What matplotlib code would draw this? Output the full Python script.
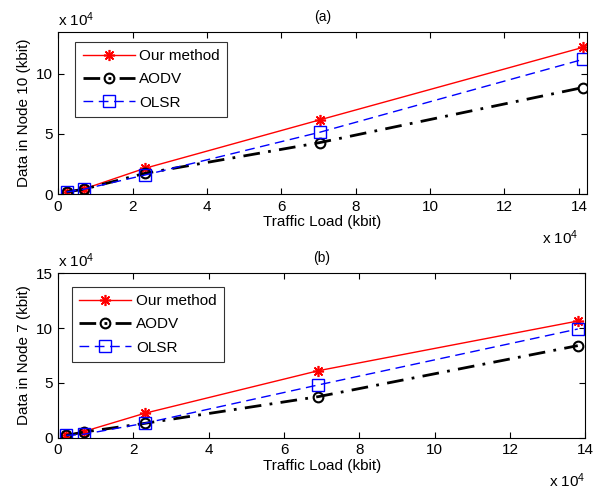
import matplotlib
matplotlib.use("Agg")
import matplotlib.pyplot as plt
from matplotlib.ticker import FuncFormatter, MultipleLocator
from matplotlib.transforms import offset_copy

plt.rcParams['font.family'] = ['Liberation Sans', 'DejaVu Sans']
plt.rcParams['font.size'] = 11
plt.rcParams['mathtext.default'] = 'regular'

# Node 10 (panel a)
load_a = [0.23e4, 0.69e4, 2.33e4, 7.03e4, 14.1e4]
ours_a = [0.17e4, 0.42e4, 2.14e4, 6.17e4, 12.2e4]
aodv_a = [0.17e4, 0.40e4, 1.72e4, 4.28e4, 8.86e4]
olsr_a = [0.17e4, 0.40e4, 1.58e4, 5.14e4, 11.2e4]

# Node 7 (panel b)
load_b = [0.22e4, 0.68e4, 2.30e4, 6.91e4, 13.8e4]
ours_b = [0.20e4, 0.55e4, 2.22e4, 6.11e4, 10.65e4]
aodv_b = [0.20e4, 0.50e4, 1.30e4, 3.74e4, 8.40e4]
olsr_b = [0.20e4, 0.30e4, 1.31e4, 4.81e4, 9.92e4]

series_names = ['Our method', 'AODV', 'OLSR']
panel_titles = ['(a)', '(b)']
ylabels = ['Data in Node 10 (kbit)', 'Data in Node 7 (kbit)']

fig = plt.figure(figsize=(5.93, 4.9), dpi=100)
ax_a = fig.add_axes([0.098, 0.604, 0.892, 0.331])
ax_b = fig.add_axes([0.098, 0.107, 0.889, 0.335])

sci = FuncFormatter(lambda v, _: f"{v / 1e4:g}")
asterisk = (8, 2, 0)

def draw(ax, x, ours, aodv, olsr, title, ylabel, xlim, ylim, yticks,
         legend_bbox, mult_x):
    ax.plot(x, ours, color='red', lw=1.0, ls='-', marker=asterisk, ms=8,
            mec='red', mew=1.2, label=series_names[0])
    ax.plot(x, aodv, color='black', lw=2.0, ls=(0, (6, 3, 1, 3)), marker='o', ms=7,
            mec='black', mfc='none', mew=1.5, label=series_names[1])
    ax.plot(x, olsr, color='blue', lw=1.0, ls=(0, (7, 4)), marker='s', ms=9,
            mec='blue', mfc='none', mew=1.0, label=series_names[2])
    ax.set_xlim(*xlim)
    ax.set_ylim(*ylim)
    ax.xaxis.set_major_locator(MultipleLocator(2e4))
    ax.set_yticks(yticks)
    ax.xaxis.set_major_formatter(sci)
    ax.yaxis.set_major_formatter(sci)
    ax.tick_params(direction='in', top=True, right=True, length=4, labelsize=11, pad=4)
    for sp in ax.spines.values():
        sp.set_linewidth(0.8)
    ax.set_xlabel('Traffic Load (kbit)', fontsize=11, labelpad=1)
    ax.set_ylabel(ylabel, fontsize=11, labelpad=3)
    ax.set_title(title, fontsize=10, pad=8, x=0.5)
    ax.text(0.0, 1.02, r'x 10$^4$', transform=ax.transAxes, fontsize=11,
            ha='left', va='bottom')
    below = offset_copy(ax.transAxes, fig=fig, x=0, y=-34, units='dots')
    ax.text(mult_x, 0.0, r'x 10$^4$', transform=below, fontsize=11,
            ha='right', va='top')
    leg = ax.legend(loc='upper left', bbox_to_anchor=legend_bbox, fontsize=11,
                    frameon=True, fancybox=False, edgecolor='black',
                    handlelength=3.4, borderpad=0.5, labelspacing=0.6,
                    handletextpad=0.3, borderaxespad=0)
    leg.get_frame().set_linewidth(0.8)

draw(ax_a, load_a, ours_a, aodv_a, olsr_a, panel_titles[0], ylabels[0],
     (0, 14.22e4), (0, 13.5e4), [0, 5e4, 10e4], (0.032, 0.94), 0.983)
draw(ax_b, load_b, ours_b, aodv_b, olsr_b, panel_titles[1], ylabels[1],
     (0, 14e4), (0, 15e4), [0, 5e4, 10e4, 15e4], (0.026, 0.92), 1.0)

fig.savefig('out.png', dpi=100)
